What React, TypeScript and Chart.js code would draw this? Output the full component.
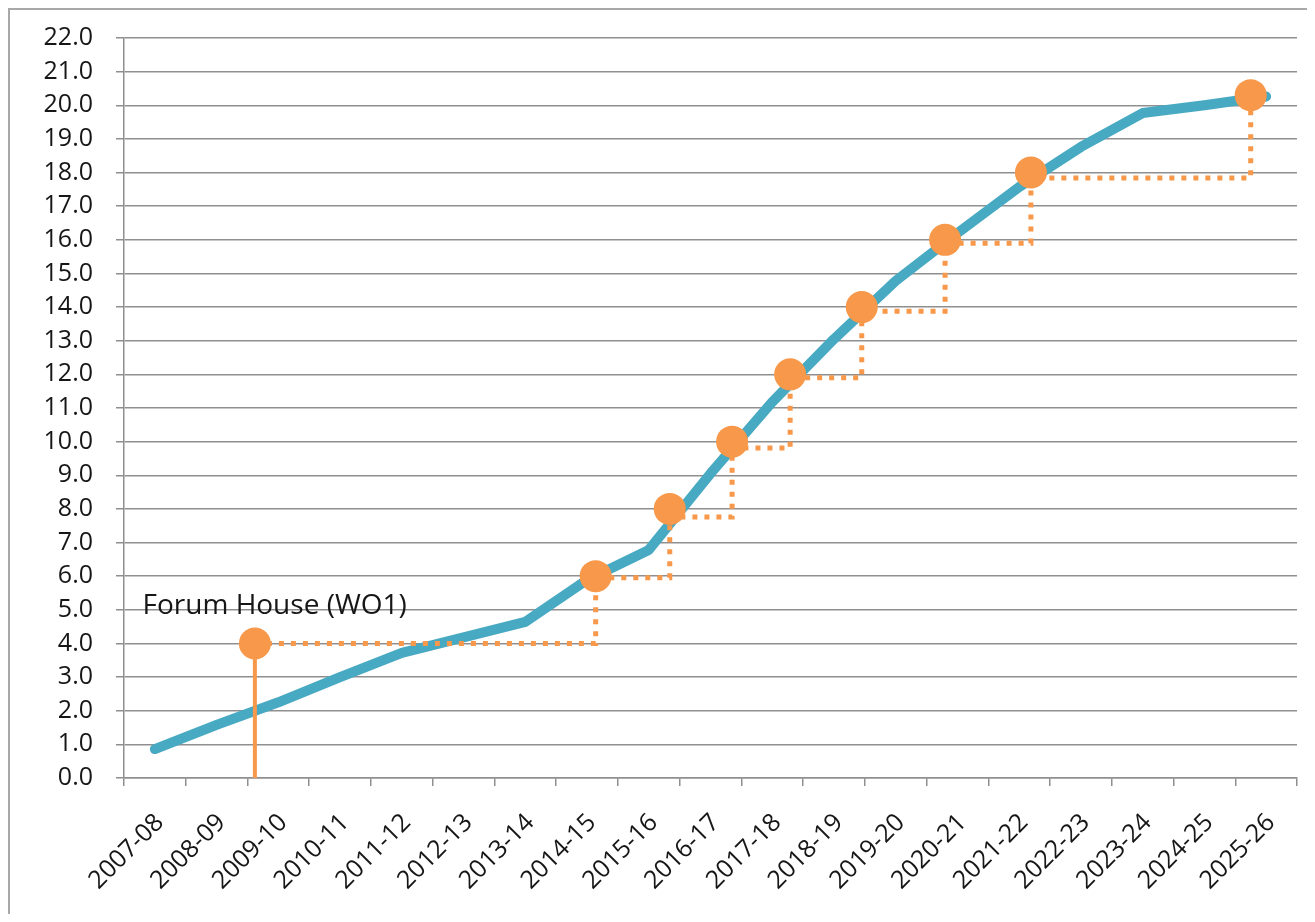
import React, { useEffect, useRef } from "react";
import { Chart, registerables } from "chart.js";

Chart.register(...registerables);

const categories = [
  "2007-08", "2008-09", "2009-10", "2010-11", "2011-12", "2012-13", "2013-14",
  "2014-15", "2015-16", "2016-17", "2017-18", "2018-19", "2019-20", "2020-21",
  "2021-22", "2022-23", "2023-24", "2024-25", "2025-26",
];

// Cumulative total (blue line)
const totalValues = [
  0.86, 1.58, 2.25, 3.0, 3.72, 4.18, 4.64, 5.89, 6.78, 9.05, 11.18, 13.05,
  14.78, 16.2, 17.57, 18.76, 19.77, 20.0, 20.26,
];

// Orange milestones: position along the category index axis and level
const milestoneIndex = [1.62, 7.14, 8.34, 9.35, 10.29, 11.45, 12.8, 14.19, 17.75];
const milestoneValues = [4.0, 6.0, 8.0, 10.0, 12.0, 14.0, 16.0, 18.0, 20.3];
const stepLevels = [4.0, 5.95, 7.76, 9.81, 11.9, 13.88, 15.9, 17.84, 20.3];

const milestoneLabel = "Forum House (WO1)";

const yTicksMin = 0;
const yTicksMax = 22;
const yTicksStep = 1;

const FONT = "'Open Sans', 'DejaVu Sans', sans-serif";
const BLUE = "#47A9C2";
const ORANGE = "#F7984A";
const GRID = "#8f8f8f";
const TEXT = "#161616";

const labelPlugin = {
  id: "milestoneLabel",
  afterDatasetsDraw(chart: any) {
    const xs = chart.scales.x2;
    const ys = chart.scales.y;
    const ctx = chart.ctx;
    ctx.save();
    ctx.font = `28px ${FONT}`;
    ctx.fillStyle = TEXT;
    ctx.textAlign = "left";
    ctx.textBaseline = "alphabetic";
    ctx.fillText(milestoneLabel, xs.getPixelForValue(-0.2), ys.getPixelForValue(4.87));
    ctx.restore();
  },
};

export default function App() {
  const ref = useRef<HTMLCanvasElement | null>(null);

  useEffect(() => {
    if (!ref.current) return;
    const markerPts = milestoneIndex.map((x, i) => ({ x, y: milestoneValues[i] }));
    const stepPts = milestoneIndex.map((x, i) => ({ x, y: stepLevels[i] }));
    const stemPts = [
      { x: milestoneIndex[0], y: 0 },
      { x: milestoneIndex[0], y: milestoneValues[0] },
    ];

    const chart = new Chart(ref.current, {
      type: "line",
      data: {
        labels: categories,
        datasets: [
          {
            label: "Milestones",
            data: markerPts as any,
            xAxisID: "x2",
            showLine: false,
            pointRadius: 16,
            pointBackgroundColor: ORANGE,
            pointBorderWidth: 0,
            pointBorderColor: ORANGE,
            order: 0,
          },
          {
            label: "Steps",
            data: stepPts as any,
            xAxisID: "x2",
            stepped: "before",
            borderColor: ORANGE,
            borderWidth: 5,
            borderDash: [5, 7],
            pointRadius: 0,
            fill: false,
            order: 1,
          },
          {
            label: "Stem",
            data: stemPts as any,
            xAxisID: "x2",
            borderColor: ORANGE,
            borderWidth: 4,
            pointRadius: 0,
            fill: false,
            order: 2,
          },
          {
            label: "Total",
            data: totalValues,
            xAxisID: "x",
            borderColor: BLUE,
            borderWidth: 10,
            borderCapStyle: "round",
            borderJoinStyle: "round",
            pointRadius: 0,
            tension: 0,
            fill: false,
            order: 3,
          },
        ],
      },
      options: {
        animation: false,
        responsive: false,
        layout: { padding: { left: 0, top: 28, right: 18, bottom: 0 } },
        plugins: {
          legend: { display: false },
          tooltip: { enabled: false },
        },
        scales: {
          x: {
            type: "category",
            offset: true,
            grid: {
              display: true,
              offset: true,
              drawOnChartArea: false,
              drawTicks: true,
              tickLength: 8,
              color: GRID,
              lineWidth: 1.5,
            },
            border: { display: true, color: GRID, width: 1.5 },
            ticks: {
              autoSkip: false,
              maxRotation: 45,
              minRotation: 45,
              padding: 22,
              labelOffset: 5,
              color: TEXT,
              font: { family: FONT, size: 25 },
            },
            afterFit(scale: any) {
              scale.height = 136;
              scale.paddingLeft = 0;
              scale.paddingRight = 0;
            },
          },
          x2: {
            type: "linear",
            display: false,
            min: -0.5,
            max: 18.5,
          },
          y: {
            min: yTicksMin,
            max: yTicksMax,
            ticks: {
              stepSize: yTicksStep,
              padding: 23,
              color: TEXT,
              font: { family: FONT, size: 25 },
              callback: (v: any) => Number(v).toFixed(1),
            },
            grid: {
              color: GRID,
              lineWidth: 1.5,
              tickLength: 8,
              drawTicks: true,
            },
            border: { display: true, color: GRID, width: 1.5 },
            afterFit(scale: any) {
              scale.width = 114;
              scale.paddingTop = 0;
              scale.paddingBottom = 0;
            },
          },
        },
      },
      plugins: [labelPlugin],
    });
    return () => chart.destroy();
  }, []);

  return (
    <div style={{ width: 1307, height: 906, overflow: "hidden" }}>
      <div
        style={{
          width: 1400,
          height: 1000,
          borderLeft: "2px solid #a8a8a8",
          borderTop: "2px solid #a8a8a8",
          background: "#fff",
        }}
      >
        <canvas ref={ref} width={1305} height={904} style={{ display: "block" }} />
      </div>
    </div>
  );
}
